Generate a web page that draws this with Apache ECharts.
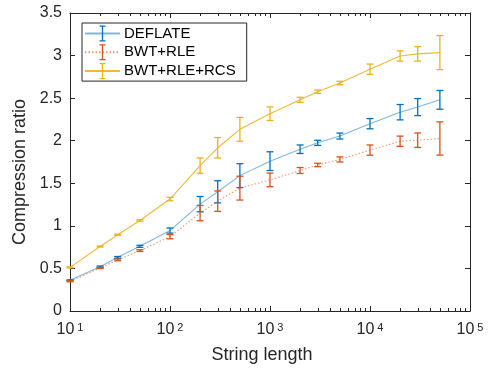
<!DOCTYPE html>
<html>
<head>
<meta charset="utf-8">
<script src="https://cdn.jsdelivr.net/npm/echarts@6/dist/echarts.min.js"></script>
<style>
  html, body { margin: 0; padding: 0; background: #ffffff; }
  #chart { width: 488px; height: 369px; }
</style>
</head>
<body>
<div id="chart"></div>
<script>
// String lengths tested (log-spaced)
const lengths = [10, 20, 30, 50, 100, 200, 300, 500, 1000, 2000, 3000, 5000, 10000, 20000, 30000, 50000];

// Mean compression ratio and error half-width for each method
const deflateMean = [0.36, 0.52, 0.63, 0.76, 0.945, 1.255, 1.40, 1.59, 1.76, 1.90, 1.975, 2.055, 2.20, 2.335, 2.395, 2.48];
const deflateErr  = [0.006, 0.008, 0.01, 0.012, 0.03, 0.09, 0.13, 0.14, 0.11, 0.05, 0.03, 0.035, 0.06, 0.09, 0.10, 0.11];

const bwtRleMean = [0.35, 0.505, 0.60, 0.71, 0.873, 1.15, 1.29, 1.443, 1.54, 1.65, 1.715, 1.78, 1.89, 1.994, 2.006, 2.026];
const bwtRleErr  = [0.006, 0.006, 0.01, 0.01, 0.025, 0.09, 0.12, 0.14, 0.08, 0.035, 0.02, 0.03, 0.06, 0.06, 0.085, 0.195];

const bwtRleRcsMean = [0.512, 0.757, 0.896, 1.063, 1.315, 1.708, 1.917, 2.134, 2.317, 2.48, 2.576, 2.678, 2.84, 2.995, 3.02, 3.035];
const bwtRleRcsErr  = [0.006, 0.006, 0.006, 0.008, 0.02, 0.09, 0.12, 0.14, 0.08, 0.03, 0.02, 0.02, 0.06, 0.06, 0.085, 0.2];

const seriesNames = ['DEFLATE', 'BWT+RLE', 'BWT+RLE+RCS'];

// Y tick range
const yMin = 0, yMax = 3.5, yStep = 0.5;
// X range (log)
const xMin = 10, xMax = 100000;

const COLORS = ['#0072BD', '#D95319', '#EDB120'];
const LINE_COLORS = ['rgba(0,114,189,0.5)', 'rgba(217,83,25,0.6)', 'rgba(237,177,32,0.9)'];
const AXIS = '#262626';
const FONT = "'Liberation Sans', Arial, Helvetica, sans-serif";

function pairs(xs, ys) { return xs.map((x, i) => [x, ys[i]]); }
function triples(xs, ys, es) { return xs.map((x, i) => [x, ys[i], es[i]]); }

// Minor tick positions on the log axis: 2..9 × 10^k
const minorTicks = [];
for (let k = 1; k < 5; k++) {
  for (let m = 2; m <= 9; m++) minorTicks.push(m * Math.pow(10, k));
}

function errorBarRenderer(color) {
  return function (params, api) {
    const x = api.value(0), m = api.value(1), e = api.value(2);
    const hi = api.coord([x, m + e]);
    const lo = api.coord([x, m - e]);
    const cw = 3.5;
    const style = { stroke: color, lineWidth: 1.3, fill: null };
    return {
      type: 'group',
      children: [
        { type: 'line', shape: { x1: hi[0], y1: hi[1], x2: lo[0], y2: lo[1] }, style: style },
        { type: 'line', shape: { x1: hi[0] - cw, y1: hi[1], x2: hi[0] + cw, y2: hi[1] }, style: style },
        { type: 'line', shape: { x1: lo[0] - cw, y1: lo[1], x2: lo[0] + cw, y2: lo[1] }, style: style }
      ]
    };
  };
}

function minorTickRenderer(params, api) {
  const x = api.value(0);
  const b = api.coord([x, yMin]);
  const t = api.coord([x, yMax]);
  const bx = Math.round(b[0]) + 0.5;
  const style = { stroke: AXIS, lineWidth: 1 };
  return {
    type: 'group',
    children: [
      { type: 'line', shape: { x1: bx, y1: b[1], x2: bx, y2: b[1] - 3 }, style: style },
      { type: 'line', shape: { x1: bx, y1: t[1], x2: bx, y2: t[1] + 3 }, style: style }
    ]
  };
}

// Error-bar glyph used as the series symbol, so the legend shows the
// series line with an error bar on top of it. Two tiny end points keep
// the glyph's box square so it is not stretched.
const errorGlyph = 'path://M0,8L0.02,8L0,8.02Z M16,8L15.98,8L16,8.02Z ' +
  'M7.35,0.6H8.65V15.4H7.35Z M5,0H11V1.2H5Z M5,14.8H11V16H5Z';

const means = [deflateMean, bwtRleMean, bwtRleRcsMean];
const errs = [deflateErr, bwtRleErr, bwtRleRcsErr];
const lineTypes = ['solid', [1.5, 2], 'solid'];

const series = [];
seriesNames.forEach((name, i) => {
  series.push({
    name: name,
    type: 'line',
    data: pairs(lengths, means[i]),
    symbol: errorGlyph,
    showSymbol: false,
    emphasis: { disabled: true },
    silent: true,
    itemStyle: { color: COLORS[i], borderWidth: 0 },
    lineStyle: { color: LINE_COLORS[i], width: 1.1, type: lineTypes[i] },
    z: 2 + i * 2,
    animation: false
  });
  series.push({
    name: name + ' error',
    type: 'custom',
    data: triples(lengths, means[i], errs[i]),
    renderItem: errorBarRenderer(COLORS[i]),
    z: 3 + i * 2,
    silent: true,
    animation: false
  });
});
series.push({
  name: 'minor ticks',
  type: 'custom',
  data: minorTicks.map(v => [v]),
  renderItem: minorTickRenderer,
  silent: true,
  z: 1,
  animation: false
});

const chart = echarts.init(document.getElementById('chart'), null, { renderer: 'canvas' });

const commonAxisLine = { show: true, lineStyle: { color: AXIS, width: 1 } };

chart.setOption({
  animation: false,
  backgroundColor: '#ffffff',
  textStyle: { fontFamily: FONT },
  grid: { left: 70, right: 18, top: 13, bottom: 55, containLabel: false },
  legend: {
    data: seriesNames.map((n, i) => ({ name: n, itemStyle: { color: COLORS[i], borderWidth: 0 } })),
    orient: 'vertical',
    left: 82,
    top: 23,
    padding: [2.5, 11, 2, 2],
    itemGap: 2.8,
    itemWidth: 35,
    itemHeight: 20,
    selectedMode: false,
    backgroundColor: '#ffffff',
    borderColor: AXIS,
    borderWidth: 1,
    textStyle: { fontSize: 15, color: '#000000', fontFamily: FONT, lineHeight: 16, padding: [0, 0, 0, -1] }
  },
  xAxis: [
    {
      type: 'log',
      logBase: 10,
      min: xMin,
      max: xMax,
      position: 'bottom',
      name: 'String length',
      nameLocation: 'middle',
      nameGap: 35,
      nameTextStyle: { fontSize: 18, color: AXIS, fontFamily: FONT, padding: [0, 16, 0, 0] },
      axisLine: { ...commonAxisLine, onZero: false },
      axisTick: { show: true, inside: true, length: 5, lineStyle: { color: AXIS } },
      splitLine: { show: false },
      axisLabel: {
        margin: 11,
        color: AXIS,
        formatter: function (v) {
          const p = Math.round(Math.log10(v));
          return '{b|10}{s|' + p + '}';
        },
        rich: {
          b: { fontSize: 16, lineHeight: 16, verticalAlign: 'bottom', padding: [4.5, 0, 0, 0], color: AXIS, fontFamily: FONT },
          s: { fontSize: 11, lineHeight: 11, verticalAlign: 'top', padding: [0, 0, 0, 3], color: AXIS, fontFamily: FONT }
        }
      }
    },
    {
      type: 'log',
      logBase: 10,
      min: xMin,
      max: xMax,
      position: 'top',
      axisLine: { ...commonAxisLine, onZero: false },
      axisTick: { show: true, inside: true, length: 5, lineStyle: { color: AXIS } },
      axisLabel: { show: false },
      splitLine: { show: false }
    }
  ],
  yAxis: [
    {
      type: 'value',
      min: yMin,
      max: yMax,
      interval: yStep,
      position: 'left',
      name: 'Compression ratio',
      nameLocation: 'middle',
      nameGap: 34,
      nameTextStyle: { fontSize: 18, color: AXIS, fontFamily: FONT, padding: [0, 20, 0, 0] },
      axisLine: { ...commonAxisLine, onZero: false },
      axisTick: { show: true, inside: true, length: 5, lineStyle: { color: AXIS } },
      splitLine: { show: false },
      axisLabel: { margin: 8, fontSize: 16, color: AXIS, fontFamily: FONT }
    },
    {
      type: 'value',
      min: yMin,
      max: yMax,
      interval: yStep,
      position: 'right',
      axisLine: { ...commonAxisLine, onZero: false },
      axisTick: { show: true, inside: true, length: 5, lineStyle: { color: AXIS } },
      axisLabel: { show: false },
      splitLine: { show: false }
    }
  ],
  series: series
});
</script>
</body>
</html>
